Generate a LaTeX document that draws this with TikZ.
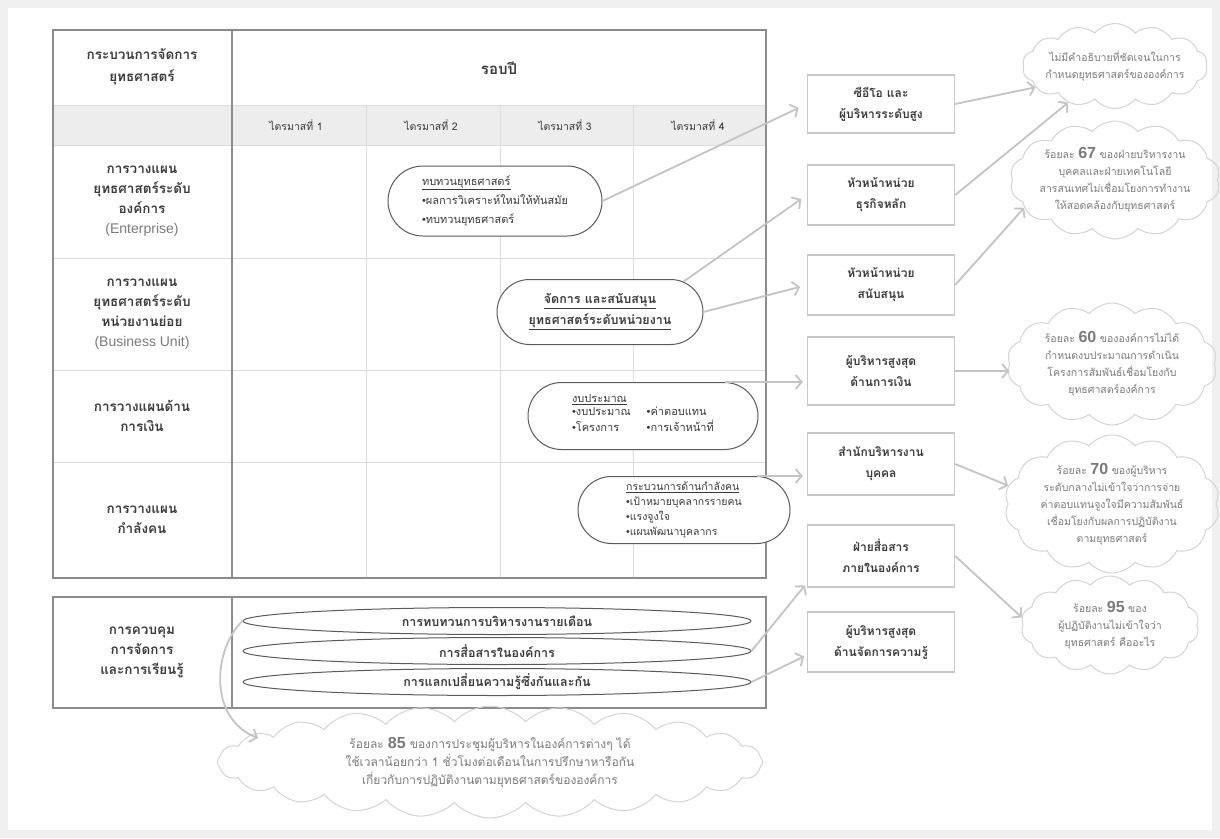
\documentclass[tikz,border=0pt]{standalone}
\usepackage{fontspec}
\setmainfont[Script=Thai]{Loma}
\newfontfamily\latinsans{Liberation Sans}
\usetikzlibrary{shapes.misc,shapes.symbols,shapes.geometric,arrows.meta,calc}
\definecolor{bgc}{HTML}{F0F0F0}
\definecolor{tblc}{HTML}{8C8C8C}
\definecolor{gridc}{HTML}{DCDCDC}
\definecolor{qfill}{HTML}{EDEDED}
\definecolor{txt}{HTML}{3A3A3A}
\definecolor{ovalc}{HTML}{5A5A5A}
\definecolor{boxc}{HTML}{C8C8C8}
\definecolor{arrc}{HTML}{C4C4C4}
\definecolor{cloudc}{HTML}{D4D4D4}
\definecolor{ctxt}{HTML}{7A7A7A}
\newcommand\bul{{\latinsans\textbullet}}
\newcommand\bignum[1]{{\latinsans\bfseries\fontsize{16}{16}\selectfont #1}}
\newcommand\eng[1]{{\latinsans\mdseries\color{ctxt}\fontsize{14}{20}\selectfont #1}}
\begin{document}
\begin{tikzpicture}[x=1pt,y=-1pt,
  tblline/.style={draw=tblc,line width=2.6pt},
  gridline/.style={draw=gridc,line width=0.9pt},
  lbl/.style={align=center,text=txt,font=\bfseries\fontsize{13.5}{20}\selectfont,inner sep=0pt},
  qlbl/.style={text=txt,font=\fontsize{10.5}{12}\selectfont,inner sep=0pt},
  oval/.style={rounded rectangle,draw=ovalc,line width=1pt,fill=white,text=txt,align=left,inner sep=0pt,font=\fontsize{11}{19}\selectfont},
  ell/.style={ellipse,draw=ovalc,line width=1pt,fill=white,text=txt,inner sep=0pt,minimum width=508pt,minimum height=27pt,font=\bfseries\fontsize{12.5}{14}\selectfont},
  boxsty/.style={draw=boxc,line width=1.3pt,fill=white,text=txt,align=center,minimum width=147pt,inner sep=0pt,font=\bfseries\fontsize{12}{21}\selectfont},
  arr/.style={draw=arrc,line width=1.8pt,-{Straight Barb[length=6pt,width=14pt]}},
  cloudsty/.style={cloud,cloud puffs=14,cloud puff arc=100,cloud ignores aspect,draw=cloudc,line width=1pt,inner sep=0pt},
  ctext/.style={align=center,text=ctxt,inner sep=0pt,font=\fontsize{10.5}{17}\selectfont}]
\useasboundingbox (0,0) rectangle (1220,838);
\fill[bgc] (0,0) rectangle (1220,838);
\fill[white] (8,8) rectangle (1212,830);

% ---------- upper table ----------
\fill[qfill] (53,105) rectangle (766,145);
\foreach \yy in {105,145,258,370,462} {\draw[gridline] (53,\yy) -- (766,\yy);}
\foreach \xx in {366,500,633} {\draw[gridline] (\xx,105) -- (\xx,578);}
\draw[tblline] (53,30) rectangle (766,578);
\draw[tblline] (232,30) -- (232,578);

\node[lbl,font=\bfseries\fontsize{13.5}{22}\selectfont] (hdr) at (142,67) {กระบวนการจัดการ\\ยุทธศาสตร์};
\node[lbl,font=\bfseries\fontsize{15}{19}\selectfont] (cycle) at (499,68) {รอบปี};
\node[qlbl] (q1) at (296,125) {ไตรมาสที่ 1};
\node[qlbl] (q2) at (431,125) {ไตรมาสที่ 2};
\node[qlbl] (q3) at (565,125) {ไตรมาสที่ 3};
\node[qlbl] (q4) at (698,125) {ไตรมาสที่ 4};

\node[lbl] (r1) at (142,201) {การวางแผน\\ยุทธศาสตร์ระดับ\\องค์การ\\\eng{(Enterprise)}};
\node[lbl] (r2) at (142,314) {การวางแผน\\ยุทธศาสตร์ระดับ\\หน่วยงานย่อย\\\eng{(Business Unit)}};
\node[lbl] (r3) at (142,416) {การวางแผนด้าน\\การเงิน};
\node[lbl] (r4) at (142,520) {การวางแผน\\กำลังคน};

% ---------- lower table ----------
\draw[tblline] (53,597) rectangle (766,708);
\draw[tblline] (232,597) -- (232,708);
\node[lbl] (r5) at (142,652) {การควบคุม\\การจัดการ\\และการเรียนรู้};
\node[ell] (e1) at (497,621) {การทบทวนการบริหารงานรายเดือน};
\node[ell] (e2) at (497,651) {การสื่อสารในองค์การ};
\node[ell] (e3) at (497,682) {การแลกเปลี่ยนความรู้ซึ่งกันและกัน};

% ---------- ovals ----------
\node[oval,minimum width=214pt,minimum height=70pt] (o1) at (495,201)
  {\underline{ทบทวนยุทธศาสตร์}\\\bul ผลการวิเคราะห์ใหม่ให้ทันสมัย\\\bul ทบทวนยุทธศาสตร์};
\node[oval,align=center,font=\bfseries\fontsize{12.5}{21}\selectfont,minimum width=206pt,minimum height=65pt] (o2) at (600,312)
  {\underline{จัดการ และสนับสนุน}\\\underline{ยุทธศาสตร์ระดับหน่วยงาน}};
\node[oval,font=\fontsize{11}{18}\selectfont,minimum width=230pt,minimum height=67pt] (o3) at (643,416)
  {\underline{งบประมาณ}\\[-3pt]\begin{tabular}{@{}l@{\hspace{16pt}}l@{}}\bul งบประมาณ & \bul ค่าตอบแทน\\[-2pt]\bul โครงการ & \bul การเจ้าหน้าที่\end{tabular}};
\node[oval,font=\fontsize{10.5}{15}\selectfont,minimum width=212pt,minimum height=67pt] (o4) at (684,510)
  {\underline{กระบวนการด้านกำลังคน}\\\bul เป้าหมายบุคลากรรายคน\\\bul แรงจูงใจ\\\bul แผนพัฒนาบุคลากร};

% ---------- right boxes ----------
\node[boxsty,minimum height=58pt] (b1) at (881,104) {ซีอีโอ และ\\ผู้บริหารระดับสูง};
\node[boxsty,minimum height=60pt] (b2) at (881,195) {หัวหน้าหน่วย\\ธุรกิจหลัก};
\node[boxsty,minimum height=60pt] (b3) at (881,285) {หัวหน้าหน่วย\\สนับสนุน};
\node[boxsty,minimum height=68pt] (b4) at (881,371) {ผู้บริหารสูงสุด\\ด้านการเงิน};
\node[boxsty,minimum height=62pt] (b5) at (881,464) {สำนักบริหารงาน\\บุคคล};
\node[boxsty,minimum height=62pt] (b6) at (881,556) {ฝ่ายสื่อสาร\\ภายในองค์การ};
\node[boxsty,minimum height=60pt] (b7) at (881,642) {ผู้บริหารสูงสุด\\ด้านจัดการความรู้};

% ---------- clouds ----------
\node[cloudsty,minimum width=185pt,minimum height=85pt] (c1) at (1115,66) {};
\node[ctext] (c1t) at (c1) {ไม่มีคำอธิบายที่ชัดเจนในการ\\กำหนดยุทธศาสตร์ขององค์การ};
\node[cloudsty,minimum width=210pt,minimum height=118pt] (c2) at (1115,180) {};
\node[ctext] (c2t) at (c2) {ร้อยละ \bignum{67} ของฝ่ายบริหารงาน\\บุคคลและฝ่ายเทคโนโลยี\\สารสนเทศไม่เชื่อมโยงการทำงาน\\ให้สอดคล้องกับยุทธศาสตร์};
\node[cloudsty,minimum width=210pt,minimum height=122pt] (c3) at (1112,364) {};
\node[ctext] (c3t) at (c3) {ร้อยละ \bignum{60} ขององค์การไม่ได้\\กำหนดงบประมาณการดำเนิน\\โครงการสัมพันธ์เชื่อมโยงกับ\\ยุทธศาสตร์องค์การ};
\node[cloudsty,minimum width=215pt,minimum height=138pt] (c4) at (1112,504) {};
\node[ctext] (c4t) at (c4) {ร้อยละ \bignum{70} ของผู้บริหาร\\ระดับกลางไม่เข้าใจว่าการจ่าย\\ค่าตอบแทนจูงใจมีความสัมพันธ์\\เชื่อมโยงกับผลการปฏิบัติงาน\\ตามยุทธศาสตร์};
\node[cloudsty,minimum width=178pt,minimum height=98pt] (c5) at (1110,625) {};
\node[ctext] (c5t) at (c5) {ร้อยละ \bignum{95} ของ\\ผู้ปฏิบัติงานไม่เข้าใจว่า\\ยุทธศาสตร์ คืออะไร};
\node[cloudsty,cloud puffs=24,cloud puff arc=95,minimum width=545pt,minimum height=112pt] (c6) at (490,762) {};
\node[ctext,font=\fontsize{12}{18}\selectfont] (c6t) at (c6) {ร้อยละ \bignum{85} ของการประชุมผู้บริหารในองค์การต่างๆ ได้\\ใช้เวลาน้อยกว่า 1 ชั่วโมงต่อเดือนในการปรึกษาหารือกัน\\เกี่ยวกับการปฏิบัติงานตามยุทธศาสตร์ขององค์การ};
\coordinate (c6in) at (258,738);

% ---------- connectors: table -> boxes ----------
\draw[arr,shorten >=9pt] (o1.east) -- (b1.west);
\draw[arr,shorten >=7pt] (o2.20) -- (b2.west);
\draw[arr,shorten >=7pt] (o2.east) -- (b3.west);
\draw[arr,shorten >=4pt] (o3.north east) -- (o3.north east -| b4.west);
\draw[arr,shorten >=4pt] (o4.north east) -- (o4.north east -| b5.west);
\draw[arr,shorten >=3pt] (e2.east) -- (b6.200);
\draw[arr,shorten >=3pt] (e3.east) -- (b7.190);
\draw[arr] (e1.west) .. controls (214,648) and (207,718) .. (c6in);

% ---------- connectors: boxes -> clouds ----------
\draw[arr] (b1.east) -- (c1.195);
\draw[arr] (b2.east) -- (c1.218);
\draw[arr] (b3.east) -- (c2.197);
\draw[arr] (b4.east) -- (b4.east -| c3.west);
\draw[arr] (b5.east) -- (c4.170);
\draw[arr] (b6.east) -- (c5.175);
\end{tikzpicture}
\end{document}
